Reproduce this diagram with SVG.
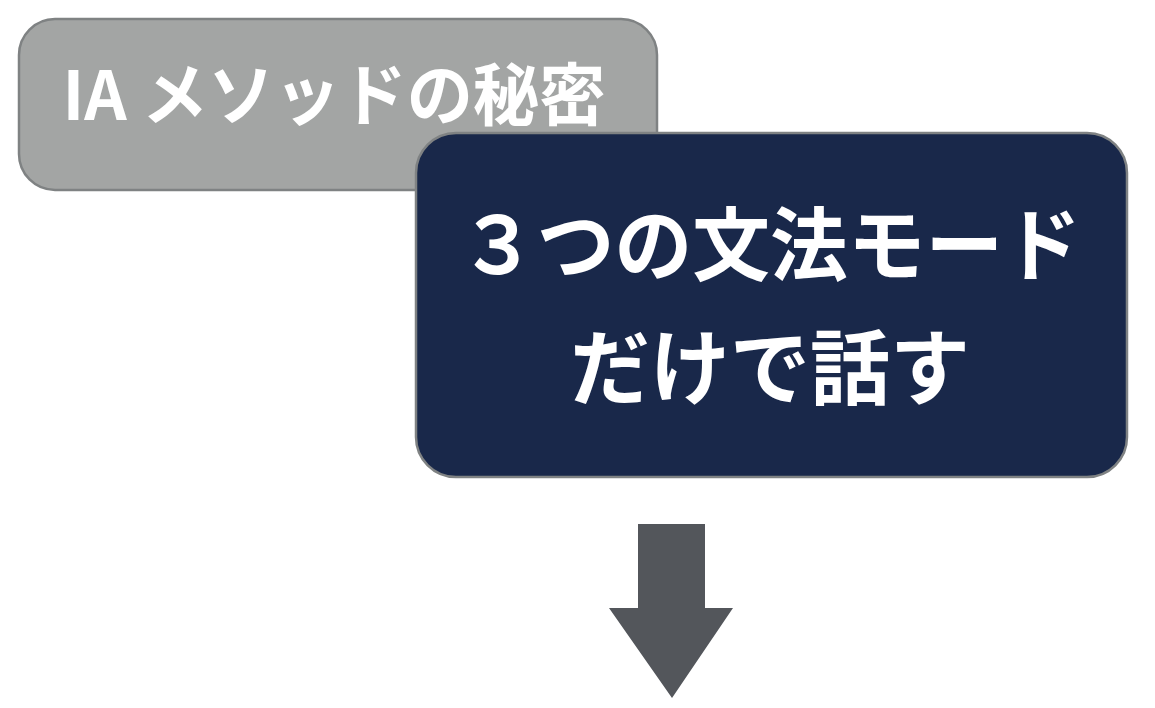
<svg xmlns="http://www.w3.org/2000/svg" width="1155" height="708" viewBox="0 0 1155 708">
<style>
.t{font-family:"Noto Sans CJK JP","Noto Sans",sans-serif;font-weight:700;fill:#ffffff;text-anchor:middle}
</style>
<rect width="1155" height="708" fill="#ffffff"/>
<g id="node-secret">
<rect x="19" y="19" width="638" height="171" rx="36" fill="#a3a5a4" stroke="#7f8283" stroke-width="2.5"/>
<text class="t" x="334" y="120" font-size="68" textLength="543" lengthAdjust="spacingAndGlyphs">IA メソッドの秘密</text>
</g>
<g id="node-modes">
<rect x="416" y="133" width="711" height="344" rx="40" fill="#19284a" stroke="#7f8283" stroke-width="2.5"/>
<text class="t" x="770" y="274" font-size="80" textLength="622" lengthAdjust="spacingAndGlyphs">３つの文法モード</text>
<text class="t" x="770" y="398" font-size="82" textLength="400" lengthAdjust="spacingAndGlyphs">だけで話す</text>
</g>
<g id="connectors">
<polygon points="638,524 705,524 705,608 733,608 672,698 609,608 638,608" fill="#53565b"/>
</g>
</svg>
